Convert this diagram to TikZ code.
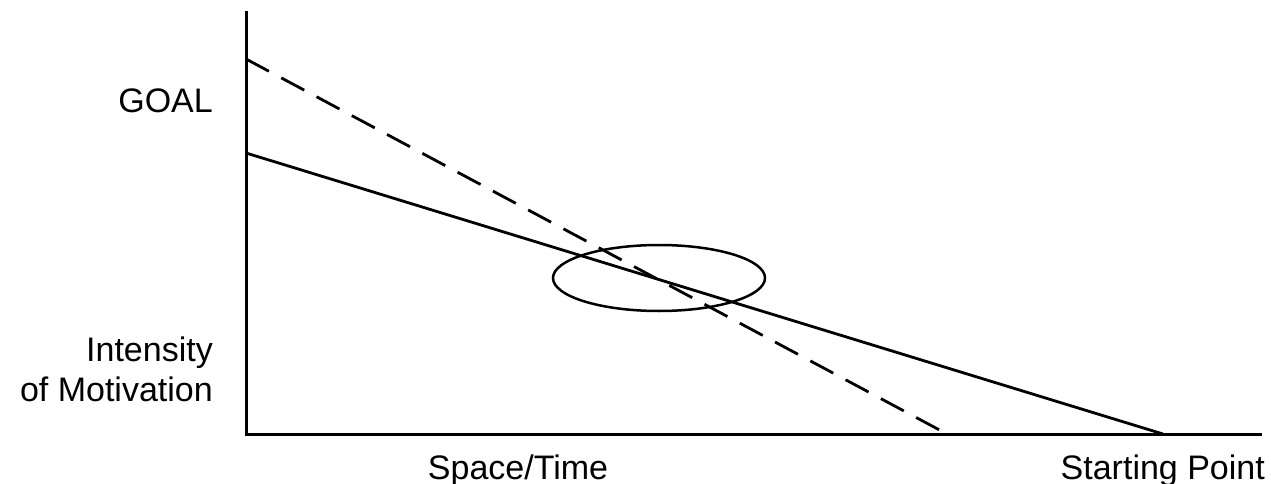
\documentclass[tikz,border=0pt]{standalone}
\usepackage{fontspec}
\setmainfont{Liberation Sans}
\usetikzlibrary{shapes.geometric}
\begin{document}
\begin{tikzpicture}[x=1pt,y=-1pt,
  axisline/.style={line width=3pt},
  trend/.style={line width=2.8pt},
  lbl/.style={inner sep=0pt,font=\fontsize{34}{40}\selectfont},
  zone/.style={ellipse,draw,line width=2.5pt,minimum width=212pt,minimum height=66pt,inner sep=0pt}]
\useasboundingbox (0,0) rectangle (1271,484);
\coordinate (ytop) at (246,11);
\coordinate (origin) at (246,434);
\coordinate (xend) at (1262,434);
\coordinate (dstart) at (246,59);
\coordinate (dend) at (947,434);
\coordinate (sstart) at (246,153);
\coordinate (send) at (1163,434);
\draw[axisline] (ytop) -- (origin) -- (xend);
\draw[trend,dash pattern=on 26pt off 14pt] (dstart) -- (dend);
\draw[trend] (sstart) -- (send);
\node[zone] (zone) at (659,278) {};
\node[lbl,anchor=base east] (goal) at (213,113) {GOAL};
\node[lbl,anchor=base east] (int1) at (213,361) {Intensity};
\node[lbl,anchor=base east] (int2) at (213,401) {of Motivation};
\node[lbl,anchor=base] (space) at (518,479) {Space/Time};
\node[lbl,anchor=base east] (start) at (1265,479) {Starting Point};
\end{tikzpicture}
\end{document}
